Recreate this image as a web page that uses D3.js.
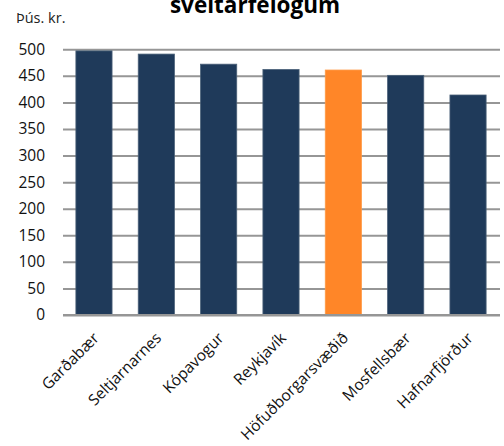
<!DOCTYPE html>
<html><head><meta charset="utf-8">
<script src="https://cdn.jsdelivr.net/npm/d3@7"></script>
<style>body{margin:0;background:#fff}svg{display:block}</style>
</head><body>
<svg id="c" width="504" height="446"></svg>
<script>
const categories = ["Garðabær","Seltjarnarnes","Kópavogur","Reykjavík","Höfuðborgarsvæðið","Mosfellsbær","Hafnarfjörður"];
const values = [497, 491, 472, 462, 461, 451, 414];
const highlight = ["Höfuðborgarsvæðið"];
const yTicks = [0,50,100,150,200,250,300,350,400,450,500];
const titleText = "sveitarfélögum";
const unitText = "Þús. kr.";

const svg = d3.select("#c");
const font = "'Open Sans', sans-serif";
const x = d3.scaleBand().domain(categories).range([62.8, 499.2]).paddingInner(0.42).paddingOuter(0.21);
const y = d3.scaleLinear().domain([0,500]).range([315, 49.3]);

svg.append("text").attr("x",255).attr("y",13).attr("text-anchor","middle")
  .attr("font-family",font).attr("font-weight","bold").attr("font-size",22.5).attr("fill","#000").text(titleText);
svg.append("text").attr("x",16).attr("y",23).attr("font-family",font).attr("font-size",14.5).attr("fill","#222").text(unitText);

const ya = svg.append("g").attr("transform","translate(63,0)")
  .call(d3.axisLeft(y).tickValues(yTicks).tickSize(-437).tickPadding(18));
ya.select(".domain").remove();
ya.selectAll(".tick line").attr("stroke","#969696").attr("stroke-width",2);
ya.selectAll(".tick text").attr("font-family",font).attr("font-size",15.5).attr("fill","#111");

svg.append("g").selectAll("rect").data(categories).join("rect")
  .attr("x",d=>x(d)).attr("width",x.bandwidth())
  .attr("y",(d,i)=>y(values[i])).attr("height",(d,i)=>y(0)-y(values[i]))
  .attr("fill",d=>highlight.includes(d)?"#FF8628":"#1F3A5A")
  .attr("stroke",d=>highlight.includes(d)?"#FF9A45":"#4A6078").attr("stroke-width",0.8);

svg.append("line").attr("x1",63).attr("x2",500).attr("y1",y(0)).attr("y2",y(0)).attr("stroke","#969696").attr("stroke-width",2);

svg.append("g").selectAll("text").data(categories).join("text")
  .attr("transform",d=>`translate(${x(d)+x.bandwidth()/2+6},${339}) rotate(-45)`)
  .attr("text-anchor","end")
  .attr("font-family",font).attr("font-size",15.5).attr("fill","#111").text(d=>d);
</script>
</body></html>
